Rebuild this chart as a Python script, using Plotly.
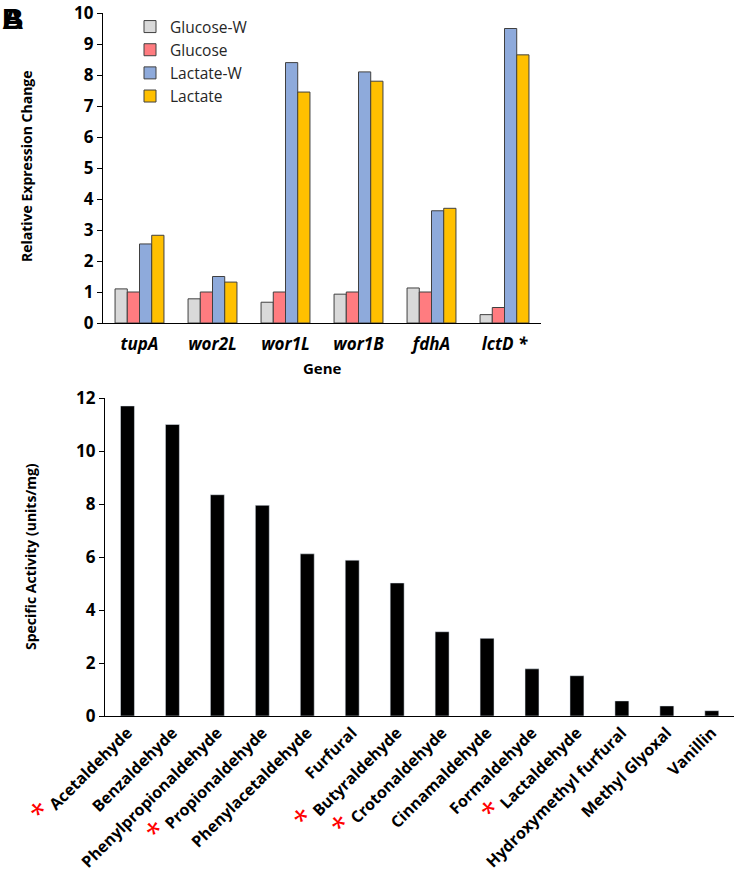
import plotly.graph_objects as go

# ---- Panel A data ----
genes = ["tupA", "wor2L", "wor1L", "wor1B", "fdhA", "lctD *"]
glucose_w = [1.10, 0.78, 0.67, 0.93, 1.13, 0.27]
glucose = [1.00, 1.00, 1.00, 1.00, 1.00, 0.50]
lactate_w = [2.55, 1.50, 8.40, 8.10, 3.62, 9.50]
lactate = [2.83, 1.32, 7.45, 7.80, 3.70, 8.65]
series_names = ["Glucose-W", "Glucose", "Lactate-W", "Lactate"]
series_colors = ["#d9d9d9", "#ff7c80", "#8eaadb", "#ffc000"]

# ---- Panel B data ----
aldehydes = ["Acetaldehyde", "Benzaldehyde", "Phenylpropionaldehyde", "Propionaldehyde",
             "Phenylacetaldehyde", "Furfural", "Butyraldehyde", "Crotonaldehyde",
             "Cinnamaldehyde", "Formaldehyde", "Lactaldehyde", "Hydroxymethyl furfural",
             "Methyl Glyoxal", "Vanillin"]
activity = [11.7, 11.0, 8.35, 7.95, 6.12, 5.88, 5.02, 3.18, 2.93, 1.78, 1.52, 0.57, 0.38, 0.20]
starred = ["Acetaldehyde", "Propionaldehyde", "Butyraldehyde", "Crotonaldehyde", "Lactaldehyde"]

W, H = 735, 871
FONT = "Open Sans"

fig = go.Figure()
for name, vals, col in zip(series_names, [glucose_w, glucose, lactate_w, lactate], series_colors):
    fig.add_trace(go.Bar(x=genes, y=vals, name=name, marker=dict(color=col, line=dict(color="#404040", width=1)),
                         xaxis="x", yaxis="y"))

star = '<span style="color:#ff0000;font-size:28px;font-weight:normal">*</span> '
ticktext = [(star + a) if a in starred else a for a in aldehydes]
fig.add_trace(go.Bar(x=aldehydes, y=activity, marker=dict(color="#000000"), showlegend=False,
                     xaxis="x2", yaxis="y2", width=0.31))

def py(p):
    return 1 - p / H

fig.update_layout(
    width=W, height=H,
    margin=dict(l=0, r=0, t=0, b=0, autoexpand=False),
    paper_bgcolor="white", plot_bgcolor="white",
    font=dict(family=FONT, color="#000000"),
    barmode="group", bargap=0.33, bargroupgap=0,
    showlegend=True,
    legend=dict(x=130 / W, y=py(10), xanchor="left", yanchor="top",
                font=dict(size=15.5, color="#262626"), bgcolor="rgba(0,0,0,0)",
                itemwidth=30, tracegroupgap=0),
    xaxis=dict(domain=[103 / W, 541 / W], anchor="y", showline=True, linecolor="#000000", linewidth=1.2,
               automargin=False, ticklabelstandoff=5,
               ticks="", tickfont=dict(size=17, weight="bold", style="italic")),
    yaxis=dict(domain=[py(323), py(13)], anchor="x", range=[0, 10], dtick=1, showline=True,
               automargin=False,
               linecolor="#000000", linewidth=1.2, ticks="outside", ticklen=5, tickcolor="#000000",
               showgrid=False, zeroline=False, tickfont=dict(size=17, weight="bold")),
    xaxis2=dict(domain=[105 / W, 0.999], anchor="y2", showline=True, linecolor="#000000", linewidth=1.2,
                automargin=False, ticklabeloverflow="allow",
                ticks="", tickangle=-45, tickfont=dict(size=16, weight="bold"),
                tickmode="array", tickvals=aldehydes, ticktext=ticktext),
    yaxis2=dict(domain=[py(716), py(398)], anchor="x2", range=[0, 12], dtick=2, showline=True,
                automargin=False,
                linecolor="#000000", linewidth=1.2, ticks="outside", ticklen=5, tickcolor="#000000",
                showgrid=False, zeroline=False, tickfont=dict(size=17, weight="bold")),
    annotations=[
        dict(text="A", x=0, y=py(0), xref="paper", yref="paper", xanchor="left", yanchor="top",
             showarrow=False, font=dict(size=30, weight="bold", family="Liberation Sans")),
        dict(text="B", x=0, y=py(0), xref="paper", yref="paper", xanchor="left", yanchor="top",
             showarrow=False, font=dict(size=30, weight="bold", family="Liberation Sans")),
        dict(text="Gene", x=322 / W, y=py(368), xref="paper", yref="paper", xanchor="center", yanchor="middle",
             showarrow=False, font=dict(size=15, weight="bold")),
        dict(text="Relative Expression Change", x=27 / W, y=py(166), xref="paper", yref="paper",
             xanchor="center", yanchor="middle", textangle=-90,
             showarrow=False, font=dict(size=14, weight="bold")),
        dict(text="Specific Activity (units/mg)", x=30 / W, y=py(557), xref="paper", yref="paper",
             xanchor="center", yanchor="middle", textangle=-90,
             showarrow=False, font=dict(size=14, weight="bold")),
    ],
)

fig.write_html("out.html", post_script="document.body.style.margin='0px';",
               config={"displayModeBar": False})
